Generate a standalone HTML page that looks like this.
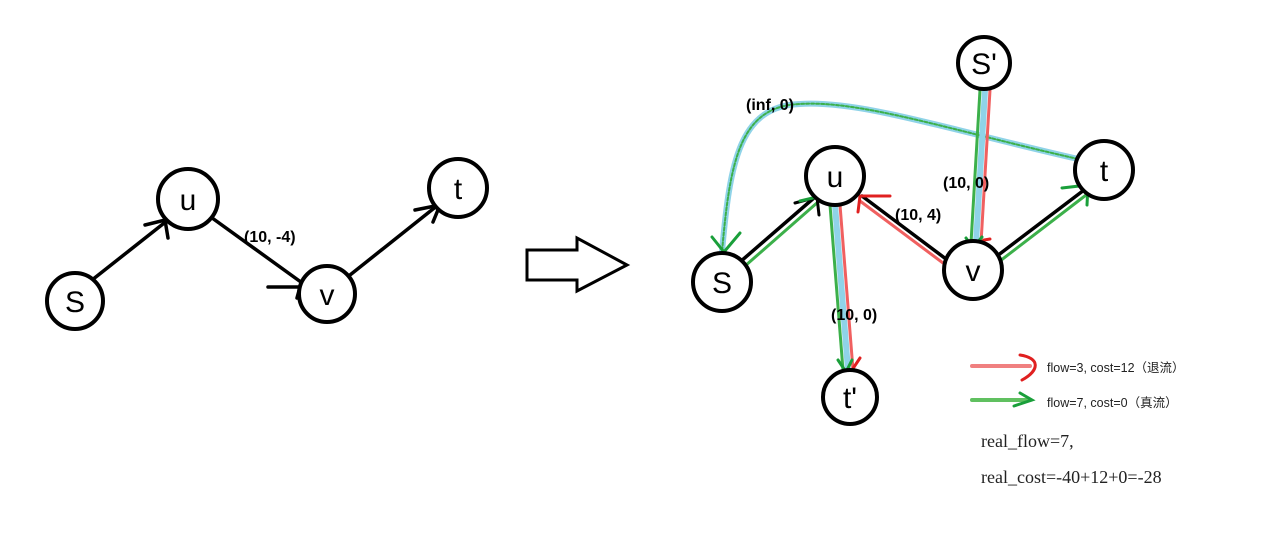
<!DOCTYPE html>
<html><head><meta charset="utf-8"><style>
body{margin:0;background:#fff;}
svg{display:block}
.n{fill:#fff;stroke:#000;stroke-width:4}
.l{font-family:"Liberation Sans",sans-serif;font-size:30px;text-anchor:middle}
.b{font-family:"Liberation Sans",sans-serif;font-size:16px;font-weight:bold}
</style></head><body>
<svg width="1262" height="541" viewBox="0 0 1262 541" xmlns="http://www.w3.org/2000/svg">
<g stroke="#000" stroke-width="3.5" fill="none" stroke-linecap="round">
<line x1="92" y1="280" x2="168" y2="220"/>
<line x1="208" y1="215" x2="305" y2="285"/>
<line x1="350" y1="275" x2="438" y2="205"/>
<path d="M145 225 L165 220 L168 238"/>
<path d="M268 287 L300 287 L297 298"/>
<path d="M415 210 L440 205 L433 222"/>
<polygon points="527,250 577,250 577,238 627,265 577,291 577,280 527,280" stroke-width="3"/>
</g>
<text class="b" x="244" y="242">(10, -4)</text>
<circle class="n" cx="75" cy="301" r="28"/><text class="l" x="75" y="312">S</text>
<circle class="n" cx="188" cy="199" r="30"/><text class="l" x="188" y="210">u</text>
<circle class="n" cx="327" cy="294" r="28"/><text class="l" x="327" y="305">v</text>
<circle class="n" cx="458" cy="188" r="29"/><text class="l" x="458" y="199">t</text>

<g fill="none" stroke-linecap="round">
<path d="M1078 159 C950 130 860 100 800 104 C740 106 730 160 722 252" stroke="#8fd3e8" stroke-width="6"/>
<path d="M1078 159 C950 130 860 100 800 104 C740 106 730 160 722 252" stroke="#3cb04a" stroke-width="2" stroke-dasharray="3 2"/>
<path d="M712 237 L724 252 L740 233" stroke="#1a9f3a" stroke-width="3"/>
<line x1="985" y1="90" x2="976" y2="243" stroke="#8fd3e8" stroke-width="6"/>
<line x1="980" y1="90" x2="971" y2="243" stroke="#3cb04a" stroke-width="3"/>
<line x1="990" y1="90" x2="981" y2="243" stroke="#f06060" stroke-width="3"/>
<line x1="835" y1="205" x2="848" y2="370" stroke="#8fd3e8" stroke-width="6"/>
<line x1="830" y1="205" x2="843" y2="370" stroke="#3cb04a" stroke-width="3"/>
<line x1="840" y1="205" x2="853" y2="370" stroke="#f06060" stroke-width="3"/>
<line x1="740" y1="262" x2="815" y2="197" stroke="#000" stroke-width="3.5"/>
<line x1="745" y1="266" x2="818" y2="202" stroke="#3cb04a" stroke-width="3"/>
<line x1="950" y1="262" x2="862" y2="196" stroke="#000" stroke-width="3.5"/>
<line x1="947" y1="266" x2="860" y2="201" stroke="#f06060" stroke-width="3"/>
<line x1="997" y1="256" x2="1088" y2="187" stroke="#000" stroke-width="3.5"/>
<line x1="1000" y1="261" x2="1090" y2="192" stroke="#3cb04a" stroke-width="3"/>
<path d="M795 203 L817 197 L819 215" stroke="#000" stroke-width="3"/>
<path d="M800 201 L817 197" stroke="#1a9f3a" stroke-width="3"/>
<path d="M858 212 L860 196 L890 196" stroke="#e02020" stroke-width="3"/>
<path d="M1062 188 L1088 185 L1087 205" stroke="#1a9f3a" stroke-width="3"/>
<path d="M966 238 L973 248 L982 237" stroke="#1a9f3a" stroke-width="3"/>
<path d="M978 247 L984 240 L990 239" stroke="#e02020" stroke-width="3"/>
<path d="M838 360 L846 372 L852 360" stroke="#1a9f3a" stroke-width="3"/>
<path d="M852 370 L860 358" stroke="#e02020" stroke-width="3"/>
<line x1="972" y1="366" x2="1030" y2="366" stroke="#f08080" stroke-width="4"/>
<path d="M1020 355 C1040 358 1040 370 1022 380" stroke="#e02020" stroke-width="3"/>
<line x1="972" y1="400" x2="1030" y2="400" stroke="#60c060" stroke-width="4"/>
<path d="M1020 393 L1032 400 L1014 406" stroke="#1a9f3a" stroke-width="3"/>
</g>
<circle class="n" cx="722" cy="282" r="29"/><text class="l" x="722" y="293">S</text>
<circle class="n" cx="835" cy="176" r="29"/><text class="l" x="835" y="187">u</text>
<circle class="n" cx="984" cy="63" r="26"/><text class="l" x="984" y="74">S'</text>
<circle class="n" cx="1104" cy="170" r="29"/><text class="l" x="1104" y="181">t</text>
<circle class="n" cx="973" cy="270" r="29"/><text class="l" x="973" y="281">v</text>
<circle class="n" cx="850" cy="397" r="27"/><text class="l" x="850" y="408">t'</text>
<text class="b" x="746" y="110">(inf, 0)</text>
<text class="b" x="943" y="188">(10, 0)</text>
<text class="b" x="895" y="220">(10, 4)</text>
<text class="b" x="831" y="320">(10, 0)</text>
<g font-family="'Liberation Sans','Noto Sans CJK SC',sans-serif" font-size="12.5" fill="#222">
<text x="1047" y="372">flow=3, cost=12（退流）</text>
<text x="1047" y="407">flow=7, cost=0（真流）</text>
</g>
<g font-family="'Liberation Serif',serif" font-size="18" fill="#222">
<text x="981" y="447">real_flow=7,</text>
<text x="981" y="483">real_cost=-40+12+0=-28</text>
</g>
</svg>
</body></html>
